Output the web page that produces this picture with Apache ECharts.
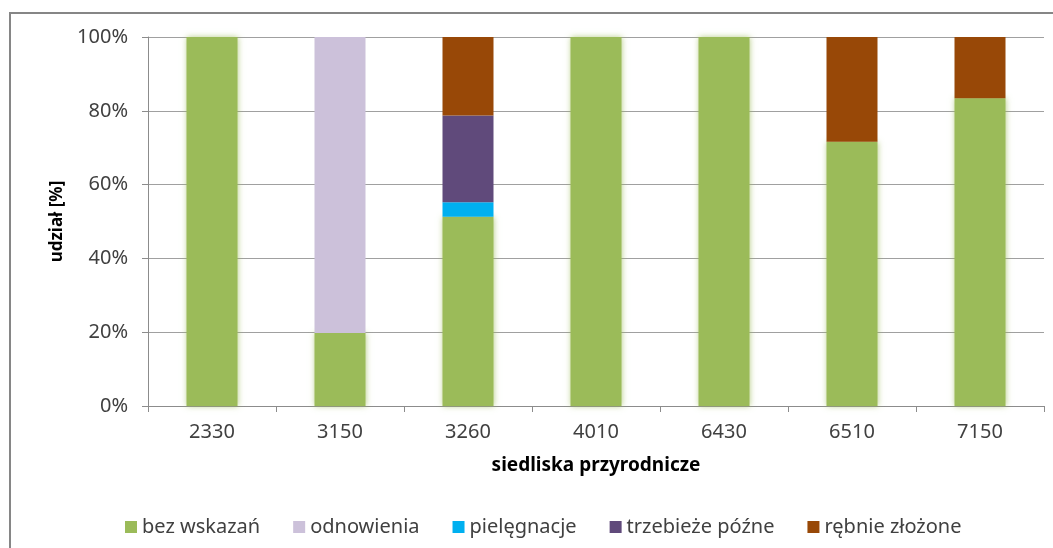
<!DOCTYPE html>
<html>
<head>
<meta charset="utf-8">
<script src="https://cdn.jsdelivr.net/npm/echarts@6/dist/echarts.min.js"></script>
<style>
html,body{margin:0;padding:0;background:#fff;}
#c{width:1053px;height:548px;}
</style>
</head>
<body>
<div id="c"></div>
<script>
const categories = ['2330','3150','3260','4010','6430','6510','7150'];
const seriesNames = ['bez wskazań','odnowienia','pielęgnacje','trzebieże późne','rębnie złożone'];
const bezWskazan   = [100, 19.8, 51.3, 100, 100, 71.6, 83.4];
const odnowienia   = [0, 80.2, 0, 0, 0, 0, 0];
const pielegnacje  = [0, 0, 3.9, 0, 0, 0, 0];
const trzebieze    = [0, 0, 23.5, 0, 0, 0, 0];
const rebnie       = [0, 0, 21.3, 0, 0, 28.4, 16.6];
const yTicks = [0, 20, 40, 60, 80, 100];

const colors = ['#9BBB59','#CCC1DA','#00B0F0','#604A7B','#984807'];
const values = [bezWskazan, odnowienia, pielegnacje, trzebieze, rebnie];
const font = 'Noto Sans';

const chart = echarts.init(document.getElementById('c'));
chart.setOption({
  animation: false,
  backgroundColor: '#ffffff',
  textStyle: { fontFamily: font },
  graphic: [{
    type: 'rect',
    shape: { x: 10, y: 13, width: 1120, height: 620 },
    style: { fill: 'none', stroke: '#868686', lineWidth: 2 },
    silent: true, z: -1
  }],
  grid: { left: 148, right: 9, top: 37, bottom: 142 },
  legend: {
    left: 120, top: 512,
    itemWidth: 12, itemHeight: 12, itemGap: 33,
    icon: 'rect',
    textStyle: { fontFamily: font, fontSize: 20, color: '#404040' },
    data: seriesNames
  },
  xAxis: {
    type: 'category',
    data: categories,
    name: 'siedliska przyrodnicze',
    nameLocation: 'middle',
    nameGap: 50,
    nameTextStyle: { fontFamily: font, fontSize: 19, fontWeight: 'bold', color: '#000' },
    axisLine: { lineStyle: { color: '#8C8C8C', width: 1 } },
    axisTick: { show: true, length: 6, lineStyle: { color: '#8C8C8C' } },
    axisLabel: { fontFamily: font, fontSize: 20, color: '#404040', margin: 16 },
    splitLine: { show: false }
  },
  yAxis: {
    type: 'value',
    min: yTicks[0], max: yTicks[yTicks.length - 1], interval: 20,
    name: 'udział [%]',
    nameLocation: 'middle',
    nameGap: 82,
    nameTextStyle: { fontFamily: font, fontSize: 17, fontWeight: 'bold', color: '#000' },
    axisLine: { show: true, lineStyle: { color: '#8C8C8C', width: 1 } },
    axisTick: { show: true, length: 6, lineStyle: { color: '#8C8C8C' } },
    axisLabel: { fontFamily: font, fontSize: 20, color: '#404040', margin: 20, formatter: '{value}%' },
    splitLine: { show: true, lineStyle: { color: '#A0A0A0', width: 1 } }
  },
  series: seriesNames.map((n, i) => ({
    name: n,
    type: 'bar',
    stack: 'total',
    barWidth: 51,
    data: values[i],
    itemStyle: i === 0
      ? { color: colors[i], shadowBlur: 6, shadowColor: 'rgba(155,187,89,0.7)' }
      : { color: colors[i] }
  }))
});
</script>
</body>
</html>
